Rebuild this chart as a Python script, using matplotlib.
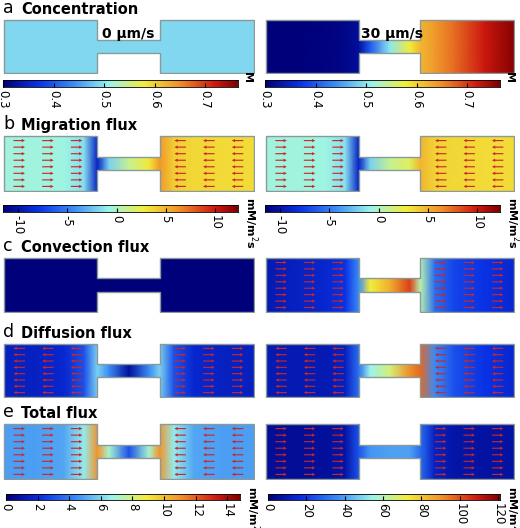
import matplotlib.pyplot as plt
import numpy as np
from matplotlib.path import Path
from matplotlib.patches import PathPatch
from matplotlib.colors import LinearSegmentedColormap

W, H = 520, 528
fig = plt.figure(figsize=(5.2, 5.28), dpi=100)

cmap = LinearSegmentedColormap.from_list("rainbow", [
    (0.0, "#00007a"), (0.15, "#0a32e6"), (0.3, "#3c8cf5"), (0.45, "#9af4ec"),
    (0.6, "#f2ee3a"), (0.75, "#f0902a"), (0.9, "#d01a10"), (1.0, "#800000")])

# sample positions along the channel (% of length) and field values there
prof_x = [0, 12, 24, 32, 37.3, 42, 50, 58, 62.3, 68, 76, 88, 100]
conc_left = [0.49] * 13
conc_right = [0.30, 0.30, 0.305, 0.31, 0.32, 0.40, 0.50, 0.58, 0.62, 0.64, 0.67, 0.72, 0.76]
mig_left = [-0.5, -0.5, -0.6, -1.5, -9, -2, 1, 3, 6, 4, 3.6, 3.5, 3.5]
mig_right = [-0.5, -0.5, -0.6, -1.5, -9, -2, 1, 2, 5, 3.8, 3.6, 3.5, 3.5]
conv_left = [0.0] * 13
conv_right = [0.08, 0.1, 0.12, 0.15, 0.3, 0.6, 0.7, 0.85, 0.5, 0.25, 0.18, 0.15, 0.12]
diff_left = [0.1, 0.1, 0.12, 0.2, 0.4, 0.3, 0.05, 0.3, 0.4, 0.2, 0.12, 0.1, 0.1]
diff_right = [0.08, 0.08, 0.08, 0.1, 0.25, 0.45, 0.55, 0.75, 0.8, 0.3, 0.2, 0.15, 0.12]
tot_left = [4.8, 4.8, 5, 6.5, 11, 7, 3, 7, 11, 6.5, 5, 4.8, 4.8]
tot_right = [5, 5, 6, 8, 25, 38, 40, 40, 30, 12, 8, 7, 7]

# arrow direction in (left wide part, right wide part), 0 = no arrows
arrows_a = [(0, 0), (0, 0)]
arrows_b = [(1, -1), (1, -1)]
arrows_c = [(0, 0), (1, 1)]
arrows_d = [(-1, 1), (-1, -1)]
arrows_e = [(1, -1), (1, 1)]

conc_ticks = [0.3, 0.4, 0.5, 0.6, 0.7]
mig_ticks = [-10, -5, 0, 5, 10]
tot_left_ticks = [0, 2, 4, 6, 8, 10, 12, 14]
tot_right_ticks = [0, 20, 40, 60, 80, 100, 120]

rows = [
    ("a", "Concentration", 19, 74, [(conc_left, arrows_a[0]), (conc_right, arrows_a[1])], (0.3, 0.765)),
    ("b", "Migration flux", 135, 192, [(mig_left, arrows_b[0]), (mig_right, arrows_b[1])], (-11.5, 12.3)),
    ("c", "Convection flux", 257, 313, [(conv_left, arrows_c[0]), (conv_right, arrows_c[1])], (0, 1)),
    ("d", "Diffusion flux", 343, 398, [(diff_left, arrows_d[0]), (diff_right, arrows_d[1])], (0, 1)),
    ("e", "Total flux", 423, 480, [(tot_left, arrows_e[0]), (tot_right, arrows_e[1])], None),
]
e_ranges = [(0, 14.8), (0, 121)]
cols = [(3, 255), (265, 515)]
c0, c1 = 37.3, 62.3
n0, n1 = 37.5, 62.5
shape = [(0, 0), (c0, 0), (c0, n0), (c1, n0), (c1, 0), (100, 0), (100, 100),
         (c1, 100), (c1, n1), (c0, n1), (c0, 100), (0, 100), (0, 0)]


def fax(x0, y0, x1, y1):
    return fig.add_axes([x0 / W, 1 - y1 / H, (x1 - x0) / W, (y1 - y0) / H])


for letter, title, y0, y1, panels, rng in rows:
    fig.text(3 / W, 1 - (y0 - 11) / H, letter, fontsize=12.5, va="center")
    fig.text(21 / W, 1 - (y0 - 10) / H, title, fontsize=10.5, fontweight="bold", va="center")
    for i, (prof, arr) in enumerate(panels):
        x0, x1 = cols[i]
        ax = fax(x0, y0, x1, y1)
        vmin, vmax = rng if rng else e_ranges[i]
        mesh = ax.pcolormesh(prof_x, [0, 100], np.array([prof, prof]), cmap=cmap,
                             vmin=vmin, vmax=vmax, shading="gouraud")
        patch = PathPatch(Path(shape), facecolor="none", edgecolor="#8a9a9a", lw=1.0)
        ax.add_patch(patch)
        mesh.set_clip_path(patch)
        ax.set_xlim(-0.5, 100.5)
        ax.set_ylim(-1, 101)
        ax.axis("off")
        ys = np.linspace(9, 91, 8)
        for xs, d in (([6, 17.5, 29], arr[0]), ([70.5, 82, 93.5], arr[1])):
            if d == 0:
                continue
            X, Y = np.meshgrid(xs, ys)
            ax.quiver(X - d * 2.3, Y, np.full_like(X, d * 4.6), np.zeros_like(Y),
                      angles="xy", scale_units="xy", scale=1, color="#c8282a",
                      width=0.0045, headwidth=3, headlength=3, headaxislength=2.7)

fig.text(128 / W, 1 - 34 / H, "0 µm/s", fontsize=10, fontweight="bold", ha="center", va="center")
fig.text(392 / W, 1 - 34 / H, "30 µm/s", fontsize=10, fontweight="bold", ha="center", va="center")

cbars = [
    ((3, 238), 80, 87, (0.3, 0.765), conc_ticks, "M"),
    ((265, 500), 80, 87, (0.3, 0.765), conc_ticks, "M"),
    ((3, 238), 205, 212, (-11.5, 12.3), mig_ticks, "mM/m$^2$s"),
    ((265, 500), 205, 212, (-11.5, 12.3), mig_ticks, "mM/m$^2$s"),
    ((6, 240), 494, 500, (0, 14.8), tot_left_ticks, "mM/m$^2$s"),
    ((268, 500), 494, 500, (0, 121), tot_right_ticks, "mM/m$^2$s"),
]
for (x0, x1), y0, y1, (vmin, vmax), ticks, unit in cbars:
    ax = fax(x0, y0, x1, y1)
    ax.imshow(np.linspace(vmin, vmax, 256)[None, :], cmap=cmap, aspect="auto",
              extent=[vmin, vmax, 0, 1])
    ax.set_xlim(vmin, vmax)
    ax.set_yticks([])
    ax.set_xticks(ticks)
    ax.set_xticklabels([str(t) for t in ticks], rotation=-90, fontsize=8.5)
    ax.tick_params(axis="x", direction="in", length=3, pad=2)
    for s in ax.spines.values():
        s.set_linewidth(0.6)
    fig.text((x1 + 4) / W, 1 - (y0 - 8) / H, unit, rotation=-90, fontsize=8,
             fontweight="bold", ha="left", va="top")

fig.savefig("out.png", dpi=100)
